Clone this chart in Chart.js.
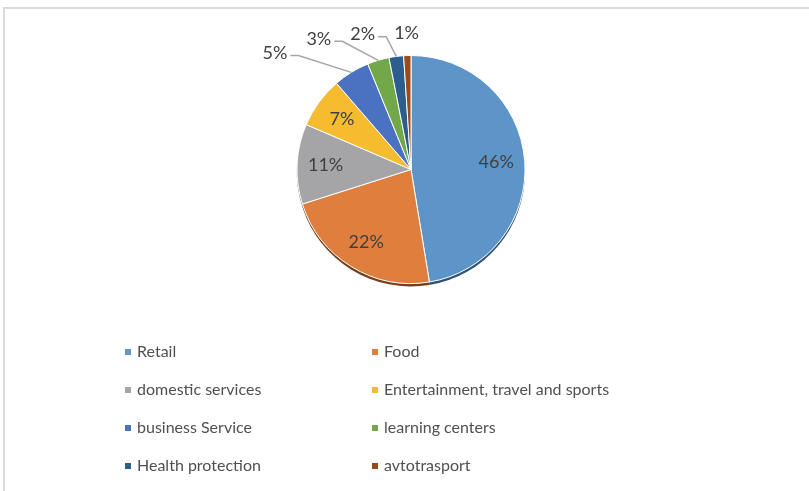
<!DOCTYPE html>
<html>
<head>
<meta charset="utf-8">
<script src="https://cdn.jsdelivr.net/npm/chart.js@4.4.0/dist/chart.umd.min.js"></script>
<style>
  html, body { margin: 0; padding: 0; background: #fff; }
  #frame { position: absolute; left: 3px; top: 7px; width: 900px; height: 600px;
           border-left: 2px solid #d9d9d9; border-top: 2px solid #d9d9d9; }
  #wrap { position: absolute; left: 0; top: 0; width: 809px; height: 491px; }
</style>
</head>
<body>
<div id="frame"></div>
<div id="wrap"><canvas id="pie"></canvas></div>
<script>
const categories = ['Retail', 'Food', 'domestic services', 'Entertainment, travel and sports',
                    'business Service', 'learning centers', 'Health protection', 'avtotrasport'];
const shares = [46, 22, 11, 7, 5, 3, 2, 1];
const colors = ['#5e95c8', '#e07e3e', '#a5a5a8', '#f5bc30', '#4a72c0', '#72a84a', '#2b5e8c', '#9b4a1c'];
const sideColors = ['#2f5478', '#7a3f1a', '#5e5e60', '#8a6510', '#263f70', '#3d5e26', '#163450', '#552608'];

const FONT = 'Lato, "Open Sans", sans-serif';

// dark rim under the pie, like the 3d edge in the original
const rimPlugin = {
  id: 'rim',
  beforeDatasetsDraw(chart) {
    const ctx = chart.ctx;
    const meta = chart.getDatasetMeta(0);
    ctx.save();
    meta.data.forEach((arc, i) => {
      ctx.beginPath();
      ctx.moveTo(arc.x, arc.y + 3);
      ctx.arc(arc.x, arc.y + 3, arc.outerRadius, arc.startAngle, arc.endAngle);
      ctx.closePath();
      ctx.fillStyle = sideColors[i];
      ctx.fill();
    });
    ctx.restore();
  }
};

const labelPlugin = {
  id: 'pctLabels',
  afterDatasetsDraw(chart) {
    const ctx = chart.ctx;
    const meta = chart.getDatasetMeta(0);
    ctx.save();
    ctx.font = '18px ' + FONT;
    ctx.fillStyle = '#404040';
    ctx.textAlign = 'center';
    ctx.textBaseline = 'middle';
    const outside = [];
    meta.data.forEach((arc, i) => {
      const mid = (arc.startAngle + arc.endAngle) / 2;
      const txt = shares[i] + '%';
      if (shares[i] >= 6) {
        const rr = arc.outerRadius * 0.75;
        ctx.fillText(txt, arc.x + Math.cos(mid) * rr, arc.y + Math.sin(mid) * rr);
      } else {
        outside.push({ arc, mid, txt, w: ctx.measureText(txt).width });
      }
    });
    let limit = Infinity;
    const gap = 19;
    for (let k = outside.length - 1; k >= 0; k--) {
      const o = outside[k];
      const rr = o.arc.outerRadius + 22;
      let cx = o.arc.x + Math.cos(o.mid) * rr;
      let cy = o.arc.y + Math.sin(o.mid) * rr;
      let shifted = false;
      if (cx + o.w / 2 + gap > limit) { cx = limit - gap - o.w / 2; shifted = true; }
      limit = cx - o.w / 2;
      ctx.fillText(o.txt, cx, cy);
      if (shifted) {
        const ex = o.arc.x + Math.cos(o.mid) * o.arc.outerRadius;
        const ey = o.arc.y + Math.sin(o.mid) * o.arc.outerRadius;
        const sx = cx + o.w / 2 + 3;
        const sy = cy + 2;
        ctx.beginPath();
        ctx.moveTo(sx, sy);
        ctx.lineTo(sx + 8, sy);
        ctx.lineTo(ex, ey);
        ctx.strokeStyle = '#a6a6a6';
        ctx.lineWidth = 1.5;
        ctx.stroke();
      }
    }
    ctx.restore();
  }
};

// two column legend under the pie
const legendPlugin = {
  id: 'gridLegend',
  afterDraw(chart, args, opts) {
    const ctx = chart.ctx;
    ctx.save();
    ctx.font = '16px ' + FONT;
    ctx.textBaseline = 'middle';
    ctx.textAlign = 'left';
    chart.data.labels.forEach((lab, i) => {
      const col = i % 2, row = Math.floor(i / 2);
      const x = opts.cols[col];
      const y = opts.top + row * opts.rowGap;
      ctx.fillStyle = colors[i];
      ctx.fillRect(x, y - 3, 6, 6);
      ctx.fillStyle = '#505050';
      ctx.fillText(lab, x + 12, y);
    });
    ctx.restore();
  }
};

new Chart(document.getElementById('pie'), {
  type: 'pie',
  data: {
    labels: categories,
    datasets: [{ data: shares, backgroundColor: colors, borderColor: '#ffffff', borderWidth: 1 }]
  },
  options: {
    responsive: true,
    maintainAspectRatio: false,
    animation: false,
    layout: { padding: { top: 55, bottom: 207, left: 13, right: 0 } },
    plugins: {
      legend: { display: false },
      tooltip: { enabled: false },
      gridLegend: { cols: [125, 372], top: 352, rowGap: 38 }
    }
  },
  plugins: [rimPlugin, labelPlugin, legendPlugin]
});
</script>
</body>
</html>
